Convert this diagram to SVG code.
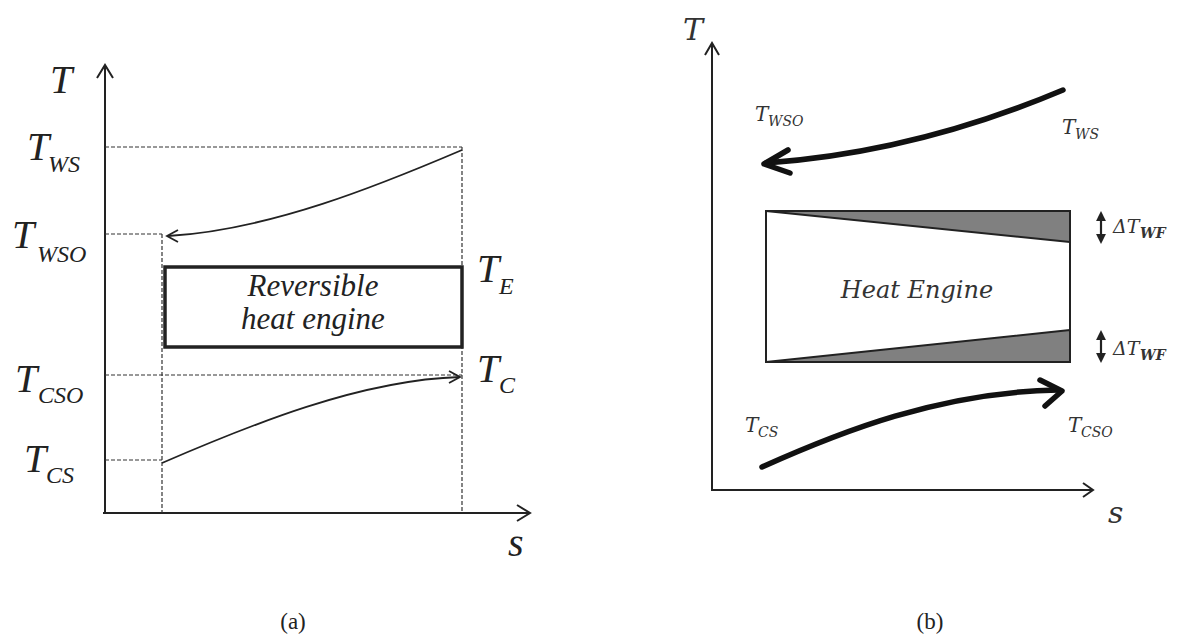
<svg xmlns="http://www.w3.org/2000/svg" width="1178" height="635" viewBox="0 0 1178 635">
<style>
.ax{stroke:#222;stroke-width:2;fill:none}
.dash{stroke:#333;stroke-width:1.2;stroke-dasharray:4 2;fill:none}
.thin{stroke:#222;stroke-width:1.8;fill:none}
.thick{stroke:#111;stroke-width:5.5;fill:none;stroke-linecap:round;stroke-linejoin:round}
.ta{font-family:'Liberation Serif',serif;font-style:italic;fill:#222}
.big{font-size:40px}
.sub{font-size:24px}
.tb{font-family:'DejaVu Serif','Liberation Serif',serif;font-style:italic;fill:#333}
.cap{font-family:'Liberation Serif',serif;font-size:23px;fill:#222}
</style>
<defs>
<marker id="dbl" viewBox="0 0 10 10" refX="5" refY="5" markerWidth="4.5" markerHeight="4.5" orient="auto-start-reverse">
<path d="M0,0 L10,5 L0,10 z" fill="#222"/>
</marker>
</defs>

<!-- Panel (a) -->
<g id="a-axes">
<path class="ax" d="M105,513 L105,65 M97,78 L105,65 L113,78"/>
<path class="ax" d="M103,513 L530,513 M517,505 L530,513 L517,521"/>
</g>
<g id="a-guides">
<path class="dash" d="M105,147 L462,147 M462,147 L462,513 M105,234 L162,234 M162,234 L162,513 M105,375 L462,375 M105,460 L162,460"/>
</g>
<g id="a-engine">
<rect x="165" y="267" width="297" height="80" fill="none" stroke="#222" stroke-width="3.5"/>
<text class="ta" x="313" y="296" font-size="31" text-anchor="middle">Reversible</text>
<text class="ta" x="313" y="329" font-size="31" text-anchor="middle">heat engine</text>
</g>
<g id="a-connectors">
<path class="thin" d="M462,150 C380,185 270,230 168,236"/>
<path class="thin" d="M178,230 L167,236 L178,242"/>
<path class="thin" d="M162,463 C250,425 360,380 460,377"/>
<path class="thin" d="M449,371 L460,377 L449,383"/>
</g>
<g id="a-labels">
<text class="ta big" x="50" y="93">T</text>
<text class="ta big" x="27" y="160">T</text><text class="ta sub" x="48" y="172">WS</text>
<text class="ta big" x="12" y="248">T</text><text class="ta sub" x="37" y="262">WSO</text>
<text class="ta big" x="15" y="392">T</text><text class="ta sub" x="38" y="403">CSO</text>
<text class="ta big" x="24" y="472">T</text><text class="ta sub" x="46" y="483">CS</text>
<text class="ta big" x="477" y="282">T</text><text class="ta sub" x="499" y="294">E</text>
<text class="ta big" x="477" y="382">T</text><text class="ta sub" x="499" y="393">C</text>
<text class="ta big" x="508" y="556">s</text>
<text class="cap" x="293" y="629" text-anchor="middle">(a)</text>
</g>

<!-- Panel (b) -->
<g id="b-axes">
<path class="ax" d="M712,490 L712,43 M705,55 L712,43 L719,55"/>
<path class="ax" d="M711,490 L1093,490 M1083,483 L1093,490 L1083,497"/>
</g>
<g id="b-engine">
<rect x="766" y="211" width="304" height="151" fill="#fff" stroke="#222" stroke-width="2"/>
<path d="M766,211 L1070,211 L1070,242 Z" fill="#808080" stroke="#222" stroke-width="2" stroke-linejoin="round"/>
<path d="M766,362 L1070,362 L1070,330 Z" fill="#808080" stroke="#222" stroke-width="2" stroke-linejoin="round"/>
<text class="tb" x="917" y="298" font-size="24" text-anchor="middle">Heat Engine</text>
</g>
<g id="b-connectors">
<path class="thick" d="M1063,90 C980,125 880,155 766,163"/>
<path class="thick" d="M788,150 L764,164 L790,173"/>
<path class="thick" d="M762,467 C840,432 940,392 1058,390"/>
<path class="thick" d="M1040,380 L1062,391 L1045,406"/>
<path d="M1101,216 L1101,239" stroke="#222" stroke-width="2.2" marker-start="url(#dbl)" marker-end="url(#dbl)"/>
<path d="M1101,335 L1101,358" stroke="#222" stroke-width="2.2" marker-start="url(#dbl)" marker-end="url(#dbl)"/>
</g>
<g id="b-labels">
<text class="tb" x="683" y="40" font-size="30">T</text>
<text class="tb" x="755" y="121" font-size="20">T</text><text class="tb" x="768" y="126" font-size="14">WSO</text>
<text class="tb" x="1062" y="134" font-size="20">T</text><text class="tb" x="1075" y="139" font-size="14">WS</text>
<text class="tb" x="745" y="432" font-size="20">T</text><text class="tb" x="758" y="437" font-size="14">CS</text>
<text class="tb" x="1068" y="432" font-size="20">T</text><text class="tb" x="1081" y="437" font-size="14">CSO</text>
<text class="tb" x="1113" y="233" font-size="19" font-style="normal">Δ<tspan font-style="italic">T</tspan></text><text class="tb" x="1140" y="238" font-size="14" font-weight="bold">WF</text>
<text class="tb" x="1113" y="355" font-size="19" font-style="normal">Δ<tspan font-style="italic">T</tspan></text><text class="tb" x="1140" y="360" font-size="14" font-weight="bold">WF</text>
<text class="tb" x="1108" y="523" font-size="30">s</text>
<text class="cap" x="930" y="629" text-anchor="middle">(b)</text>
</g>
</svg>
